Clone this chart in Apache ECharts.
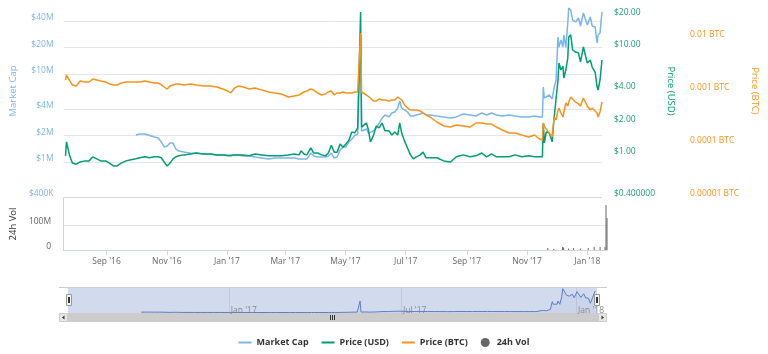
<!DOCTYPE html>
<html>
<head>
<meta charset="utf-8">
<title>Market Cap / Price / Volume</title>
<script src="https://cdn.jsdelivr.net/npm/echarts@6/dist/echarts.min.js"></script>
<style>
  html, body { margin: 0; padding: 0; background: #fff; }
  #main { width: 768px; height: 354px; }
</style>
</head>
<body>
<div id="main"></div>
<script>
var DAY = 86400000;
var startDate = Date.UTC(2016, 6, 21);

// days after startDate for each sample
var dayOffsets = [0, 1, 4, 7, 11, 15, 20, 24, 28, 32, 36, 41, 45, 49, 53, 57, 62, 67, 72, 76,
    81, 86, 91, 95, 98, 101, 104, 107, 110, 113, 116, 121, 128, 134, 141, 148, 155, 161, 166, 169,
    173, 177, 182, 188, 194, 201, 208, 214, 221, 228, 234, 239, 241, 244, 247, 251, 254, 258, 262, 266,
    269, 272, 275, 278, 281, 284, 287, 290, 293, 296, 299, 301, 302, 303, 305, 308, 310, 312, 315, 318,
    321, 324, 327, 331, 334, 337, 340, 342, 344, 347, 350, 353, 356, 359, 363, 366, 369, 373, 380, 387,
    394, 400, 407, 414, 420, 426, 431, 436, 441, 447, 454, 460, 467, 474, 480, 485, 488, 489, 490, 492,
    495, 498, 500, 502, 504, 505, 507, 509, 510, 512, 514, 515, 517, 519, 522, 525, 527, 530, 534, 537,
    539, 542, 544, 545, 547, 549];

// market cap in millions of USD
var marketCapM = [null, null, null, null, null, null, null, null, null, null, null, null, null, null, null, null, null, null, 2.03, 2.08,
    2.08, 2.00, 1.92, 1.87, 1.69, 1.48, 1.52, 1.64, 1.64, 1.40, 1.33, 1.30, 1.26, 1.26, 1.23, 1.23, 1.20, 1.20, 1.20, 1.20,
    1.20, 1.20, 1.17, 1.17, 1.14, 1.11, 1.08, 1.11, 1.11, 1.11, 1.11, 1.08, 1.11, 1.08, 1.08, 1.26, 1.17, 1.14, 1.14, 1.14,
    1.17, 1.26, 1.11, 1.14, 1.37, 1.48, 1.48, 1.69, 1.82, 2.00, 2.08, 2.13, 27.7, 2.25, 2.31, 2.37, 2.13, 2.08, 2.25, 2.43,
    2.77, 3.16, 3.42, 3.25, 3.60, 3.70, 4.10, 4.93, 4.10, 3.90, 3.70, 3.33, 3.33, 3.42, 3.51, 3.60, 3.42, 3.42, 3.33, 3.25,
    3.16, 3.25, 3.51, 3.42, 3.33, 3.60, 3.42, 3.60, 3.42, 3.33, 3.42, 3.33, 3.25, 3.25, 3.33, 3.25, 3.25, 7.11, 5.33, 5.47,
    5.77, 5.20, 6.93, 8.55, 26.3, 20.3, 24.3, 20.3, 27.7, 20.0, 38.0, 56.2, 53.3, 41.0, 39.0, 43.3, 35.1, 49.3, 36.0, 44.4,
    35.1, 34.2, 22.5, 27.7, 29.2, 50.6];

var priceUsd = [0.97, 1.31, 0.99, 0.83, 0.81, 0.85, 0.87, 0.87, 0.95, 0.91, 0.87, 0.87, 0.83, 0.78, 0.78, 0.83, 0.87, 0.89, 0.91, 0.93,
    0.95, 0.93, 0.95, 0.95, 0.93, 0.85, 0.78, 0.83, 0.91, 0.95, 0.97, 0.99, 1.01, 1.03, 1.01, 1.01, 0.99, 0.99, 0.97, 0.97,
    0.99, 0.99, 0.99, 0.97, 1.01, 0.99, 0.97, 0.97, 0.97, 0.99, 1.01, 0.99, 1.08, 1.01, 0.99, 1.15, 1.03, 1.03, 0.99, 0.97,
    1.03, 1.22, 1.05, 1.05, 1.25, 1.17, 1.25, 1.36, 1.62, 1.59, 1.77, 1.77, 21.4, 1.80, 1.84, 1.97, 1.69, 1.31, 1.49, 1.84,
    1.77, 1.97, 1.66, 1.66, 1.52, 1.62, 1.52, 1.97, 1.59, 1.33, 1.15, 0.99, 0.91, 0.95, 0.99, 1.05, 0.93, 0.93, 0.93, 0.87,
    0.85, 0.95, 0.99, 0.95, 0.97, 1.03, 0.95, 1.01, 0.95, 0.95, 0.95, 0.99, 0.95, 0.97, 0.95, 0.95, 0.95, 1.97, 1.28, 1.62,
    1.59, 1.31, 2.19, 2.24, 4.96, 7.15, 6.15, 6.70, 5.18, 6.15, 7.96, 12.5, 13.1, 9.46, 9.06, 8.87, 7.31, 10.1, 7.15, 7.62,
    6.56, 5.89, 4.26, 4.00, 4.96, 7.62];

var priceBtc = [0.00161, 0.00200, 0.00161, 0.00130, 0.00124, 0.00154, 0.00148, 0.00148, 0.00168, 0.00161,
    0.00154, 0.00148, 0.00136, 0.00130, 0.00130, 0.00142, 0.00148, 0.00148, 0.00148, 0.00148,
    0.00154, 0.00148, 0.00142, 0.00142, 0.00130, 0.00119, 0.00109, 0.00124, 0.00130, 0.00136,
    0.00136, 0.00130, 0.00136, 0.00130, 0.00124, 0.00124, 0.00119, 0.00109, 0.00100, 0.000917,
    0.00114, 0.00124, 0.00119, 0.00109, 0.00114, 0.00104, 0.000958, 0.000917, 0.000878, 0.000771,
    0.000805, 0.000841, 0.000917, 0.000958, 0.00100, 0.00109, 0.00104, 0.000917, 0.000841, 0.000878,
    0.000958, 0.00100, 0.000841, 0.000917, 0.000917, 0.000958, 0.000917, 0.000917, 0.000917, 0.000958,
    0.000958, 0.000958, 0.0124, 0.000958, 0.000917, 0.000841, 0.000805, 0.000738, 0.000648, 0.000648,
    0.000707, 0.000677, 0.000677, 0.000648, 0.000677, 0.000677, 0.000771, 0.000805, 0.000677, 0.000545,
    0.000478, 0.000438, 0.000438, 0.000438, 0.000420, 0.000385, 0.000353, 0.000323, 0.000260, 0.000219,
    0.000209, 0.000228, 0.000219, 0.000209, 0.000249, 0.000249, 0.000238, 0.000238, 0.000209, 0.000184,
    0.000161, 0.000161, 0.000148, 0.000136, 0.000148, 0.000124, 0.000119, 0.000249, 0.000219, 0.000192,
    0.000161, 0.000136, 0.000323, 0.000284, 0.000438, 0.000478, 0.000385, 0.000323, 0.000323, 0.000594,
    0.000521, 0.000620, 0.000771, 0.000707, 0.000620, 0.000569, 0.000521, 0.000738, 0.000521, 0.000438,
    0.000478, 0.000420, 0.000385, 0.000323, 0.000403, 0.000620];

// 24h volume, millions of USD (only days with a visible bar)
var volDays = [489, 495, 504, 505, 510, 515, 522, 530, 536, 542, 547, 548, 549];
var volM = [8, 4, 12, 10, 6, 8, 6, 8, 12, 12, 12, 180, 128];

var mcTicks = [4e5, 1e6, 2e6, 4e6, 1e7, 2e7, 4e7];
var mcLabels = ['$400K', '$1M', '$2M', '$4M', '$10M', '$20M', '$40M'];
var usdTicks = [0.4, 1, 2, 4, 10, 20];
var usdLabels = ['$0.400000', '$1.00', '$2.00', '$4.00', '$10.00', '$20.00'];
var btcTicks = [0.00001, 0.0001, 0.001, 0.01];
var btcLabels = ['0.00001 BTC', '0.0001 BTC', '0.001 BTC', '0.01 BTC'];
var volTicks = [0, 1e8];
var volLabels = ['0', '100M'];
var monthTicks = [[2016, 8], [2016, 10], [2017, 0], [2017, 2], [2017, 4], [2017, 6], [2017, 8], [2017, 10], [2018, 0]];
var navMonthTicks = [[2017, 0], [2017, 6], [2018, 0]];
var monthNames = ['Jan', 'Feb', 'Mar', 'Apr', 'May', 'Jun', 'Jul', 'Aug', 'Sep', 'Oct', 'Nov', 'Dec'];

var FONT = '"Open Sans", sans-serif';
var BLUE = '#7cb5ec', GREEN = '#009e73', ORANGE = '#f7931a', GREY = '#666666';

// x axes count days from startDate
var xMin = -2, xMax = 549;
var navMin = -5, navMax = 551;

function toDays(list) {
    return list.map(function (m) { return (Date.UTC(m[0], m[1], 1) - startDate) / DAY; });
}
function logs(list) {
    return list.map(function (v) { return Math.log10(v); });
}
function labelFor(ticks, labels) {
    return function (v) {
        for (var i = 0; i < ticks.length; i++) {
            if (Math.abs(ticks[i] - v) < 1e-6 * Math.max(1, Math.abs(ticks[i]))) return labels[i];
        }
        return '';
    };
}
function monthLabel(v) {
    var d = new Date(startDate + Math.round(v) * DAY);
    return monthNames[d.getUTCMonth()] + " '" + String(d.getUTCFullYear()).slice(2);
}
function series(values, scale, useLog) {
    var out = [];
    for (var i = 0; i < dayOffsets.length; i++) {
        var v = values[i];
        if (v == null) { out.push([dayOffsets[i], null]); continue; }
        out.push([dayOffsets[i], useLog ? Math.log10(v * scale) : v * scale]);
    }
    return out;
}
// axis title nudged along its own direction by an empty rich block
function nameStyle(color) {
    return {
        color: color, fontSize: 9.5,
        rich: { t: { color: color, fontSize: 9.5 }, g: { width: 20 } }
    };
}

var mcLog = logs(mcTicks), usdLog = logs(usdTicks), btcLog = logs(btcTicks);
var monthDays = toDays(monthTicks), navDays = toDays(navMonthTicks);

var volData = volDays.map(function (d, i) { return [d, volM[i] * 1e6]; });

var linePath = 'path://M0,0H13V2H0Z';

var myChart = echarts.init(document.getElementById('main'));

var option = {
    animation: false,
    textStyle: { fontFamily: FONT },
    legend: {
        left: 'center',
        top: 333,
        itemWidth: 13,
        itemHeight: 9,
        itemGap: 13,
        selectedMode: false,
        textStyle: { fontFamily: FONT, fontSize: 9, fontWeight: 'bold', color: '#333333' },
        data: [
            { name: 'Market Cap', icon: linePath },
            { name: 'Price (USD)', icon: linePath },
            { name: 'Price (BTC)', icon: linePath },
            { name: '24h Vol', icon: 'circle' }
        ]
    },
    grid: [
        { left: 58, right: 161, top: 5, height: 192 },
        { left: 58, right: 161, top: 198, height: 52 },
        { left: 68, right: 171, top: 287, height: 26, show: true, backgroundColor: '#d2daee', borderWidth: 0 }
    ],
    xAxis: [
        { type: 'value', gridIndex: 0, min: xMin, max: xMax, show: false },
        {
            type: 'value', gridIndex: 1, min: xMin, max: xMax,
            axisLine: { show: true, onZero: false, lineStyle: { color: '#ccd6eb' } },
            axisTick: { show: true, customValues: monthDays, length: 5, lineStyle: { color: '#ccd6eb' } },
            axisLabel: { customValues: monthDays, formatter: monthLabel, color: GREY, fontSize: 8.5, margin: 7 },
            splitLine: { show: false }
        },
        {
            type: 'value', gridIndex: 2, min: navMin, max: navMax,
            axisLine: { show: false },
            axisTick: { show: false, customValues: navDays },
            axisLabel: {
                customValues: navDays, formatter: monthLabel, inside: true, align: 'left',
                color: '#8a8a8a', fontSize: 8.5, margin: -2, padding: [0, 0, 0, 2]
            },
            splitLine: { show: true, lineStyle: { color: '#c2cadd', width: 1 } }
        }
    ],
    yAxis: [
        {
            type: 'value', gridIndex: 0, position: 'left',
            min: mcLog[0], max: mcLog[0] + 192 / 88,
            name: '{g|}{t|Market Cap}', nameLocation: 'middle', nameRotate: 90, nameGap: 42,
            nameTextStyle: nameStyle(BLUE),
            axisLine: { show: false },
            axisTick: { show: false, customValues: mcLog },
            axisLabel: {
                customValues: mcLog, formatter: labelFor(mcLog, mcLabels),
                color: BLUE, fontSize: 8.5, margin: 10, verticalAlign: 'bottom', lineHeight: 6
            },
            splitLine: { lineStyle: { color: ['#d6d6d6', '#e6e6e6', '#e6e6e6', '#e6e6e6', '#e6e6e6', '#e6e6e6', '#e6e6e6'] } }
        },
        {
            type: 'value', gridIndex: 0, position: 'right',
            min: usdLog[0], max: usdLog[0] + 192 / 107,
            name: '{t|Price (USD)}{g|}', nameLocation: 'middle', nameRotate: -90, nameGap: 60,
            nameTextStyle: nameStyle(GREEN),
            axisLine: { show: false },
            axisTick: { show: false, customValues: usdLog },
            axisLabel: {
                customValues: usdLog, formatter: labelFor(usdLog, usdLabels),
                color: '#1f9e7e', fontSize: 8.5, margin: 12, verticalAlign: 'bottom', lineHeight: 6
            },
            splitLine: { show: false }
        },
        {
            type: 'value', gridIndex: 0, position: 'right', offset: 74,
            min: btcLog[0], max: btcLog[0] + 192 / 53,
            name: '{t|Price (BTC)}{g|}', nameLocation: 'middle', nameRotate: -90, nameGap: 68,
            nameTextStyle: nameStyle(ORANGE),
            axisLine: { show: false },
            axisTick: { show: false, customValues: btcLog },
            axisLabel: {
                customValues: btcLog, formatter: labelFor(btcLog, btcLabels),
                color: ORANGE, fontSize: 8.5, margin: 14, verticalAlign: 'bottom', lineHeight: 6
            },
            splitLine: { show: false }
        },
        {
            type: 'value', gridIndex: 1, position: 'left', min: 0, max: 208e6,
            name: '24h Vol', nameLocation: 'middle', nameRotate: 90, nameGap: 42,
            nameTextStyle: { color: '#333333', fontSize: 9.5 },
            axisLine: { show: true, onZero: false, lineStyle: { color: '#ccd6eb' } },
            axisTick: { show: false, customValues: volTicks },
            axisLabel: {
                customValues: volTicks, formatter: labelFor(volTicks, volLabels),
                color: GREY, fontSize: 8.5, margin: 12, verticalAlign: 'bottom', lineHeight: 6
            },
            splitLine: { lineStyle: { color: '#e6e6e6' } }
        },
        { type: 'value', gridIndex: 2, min: 0, max: 60e6, show: false }
    ],
    series: [
        {
            name: 'Market Cap', type: 'line', xAxisIndex: 0, yAxisIndex: 0,
            symbol: 'none', z: 2, color: BLUE,
            lineStyle: { width: 1.5, color: BLUE },
            data: series(marketCapM, 1e6, true)
        },
        {
            name: 'Price (USD)', type: 'line', xAxisIndex: 0, yAxisIndex: 1,
            symbol: 'none', z: 3, color: GREEN,
            lineStyle: { width: 1.5, color: GREEN },
            data: series(priceUsd, 1, true)
        },
        {
            name: 'Price (BTC)', type: 'line', xAxisIndex: 0, yAxisIndex: 2,
            symbol: 'none', z: 4, color: ORANGE,
            lineStyle: { width: 1.5, color: ORANGE },
            data: series(priceBtc, 1, true)
        },
        {
            name: '24h Vol', type: 'bar', xAxisIndex: 1, yAxisIndex: 3,
            barWidth: 1, color: '#666666',
            itemStyle: { color: '#666666' },
            data: volData
        },
        {
            name: 'navigator', type: 'line', xAxisIndex: 2, yAxisIndex: 4,
            symbol: 'none', silent: true,
            lineStyle: { width: 1, color: '#5d7ec4' },
            areaStyle: { color: 'rgba(51,92,173,0.06)' },
            data: series(marketCapM, 1e6, false)
        }
    ],
    // navigator frame and scrollbar
    graphic: [
        { type: 'line', silent: true, shape: { x1: 59, y1: 287.5, x2: 607, y2: 287.5 }, style: { stroke: '#cccccc', lineWidth: 1 } },
        { type: 'rect', silent: true, shape: { x: 59.5, y: 313.5, width: 547, height: 8 }, style: { fill: '#f2f2f2', stroke: '#e0e0e0' } },
        { type: 'rect', silent: true, shape: { x: 68, y: 313.5, width: 531, height: 8 }, style: { fill: '#cccccc', stroke: '#cccccc' } },
        { type: 'rect', silent: true, shape: { x: 59.5, y: 313.5, width: 8, height: 8 }, style: { fill: '#e6e6e6', stroke: '#cccccc' } },
        { type: 'polygon', silent: true, shape: { points: [[64.5, 315.5], [64.5, 319.5], [62, 317.5]] }, style: { fill: '#333333' } },
        { type: 'rect', silent: true, shape: { x: 598.5, y: 313.5, width: 8, height: 8 }, style: { fill: '#e6e6e6', stroke: '#cccccc' } },
        { type: 'polygon', silent: true, shape: { points: [[601.5, 315.5], [601.5, 319.5], [604, 317.5]] }, style: { fill: '#333333' } },
        { type: 'line', silent: true, shape: { x1: 330.5, y1: 315, x2: 330.5, y2: 320 }, style: { stroke: '#333333', lineWidth: 1 } },
        { type: 'line', silent: true, shape: { x1: 332.5, y1: 315, x2: 332.5, y2: 320 }, style: { stroke: '#333333', lineWidth: 1 } },
        { type: 'line', silent: true, shape: { x1: 334.5, y1: 315, x2: 334.5, y2: 320 }, style: { stroke: '#333333', lineWidth: 1 } },
        { type: 'rect', silent: true, z: 100, shape: { x: 66.5, y: 294.5, width: 5, height: 11 }, style: { fill: '#f2f2f2', stroke: '#999999' } },
        { type: 'line', silent: true, z: 101, shape: { x1: 68.5, y1: 297, x2: 68.5, y2: 303 }, style: { stroke: '#333333', lineWidth: 1 } },
        { type: 'line', silent: true, z: 101, shape: { x1: 69.5, y1: 297, x2: 69.5, y2: 303 }, style: { stroke: '#333333', lineWidth: 1 } },
        { type: 'rect', silent: true, z: 100, shape: { x: 594.5, y: 294.5, width: 5, height: 11 }, style: { fill: '#f2f2f2', stroke: '#999999' } },
        { type: 'line', silent: true, z: 101, shape: { x1: 596.5, y1: 297, x2: 596.5, y2: 303 }, style: { stroke: '#333333', lineWidth: 1 } },
        { type: 'line', silent: true, z: 101, shape: { x1: 597.5, y1: 297, x2: 597.5, y2: 303 }, style: { stroke: '#333333', lineWidth: 1 } }
    ]
};

myChart.setOption(option);
</script>
</body>
</html>
